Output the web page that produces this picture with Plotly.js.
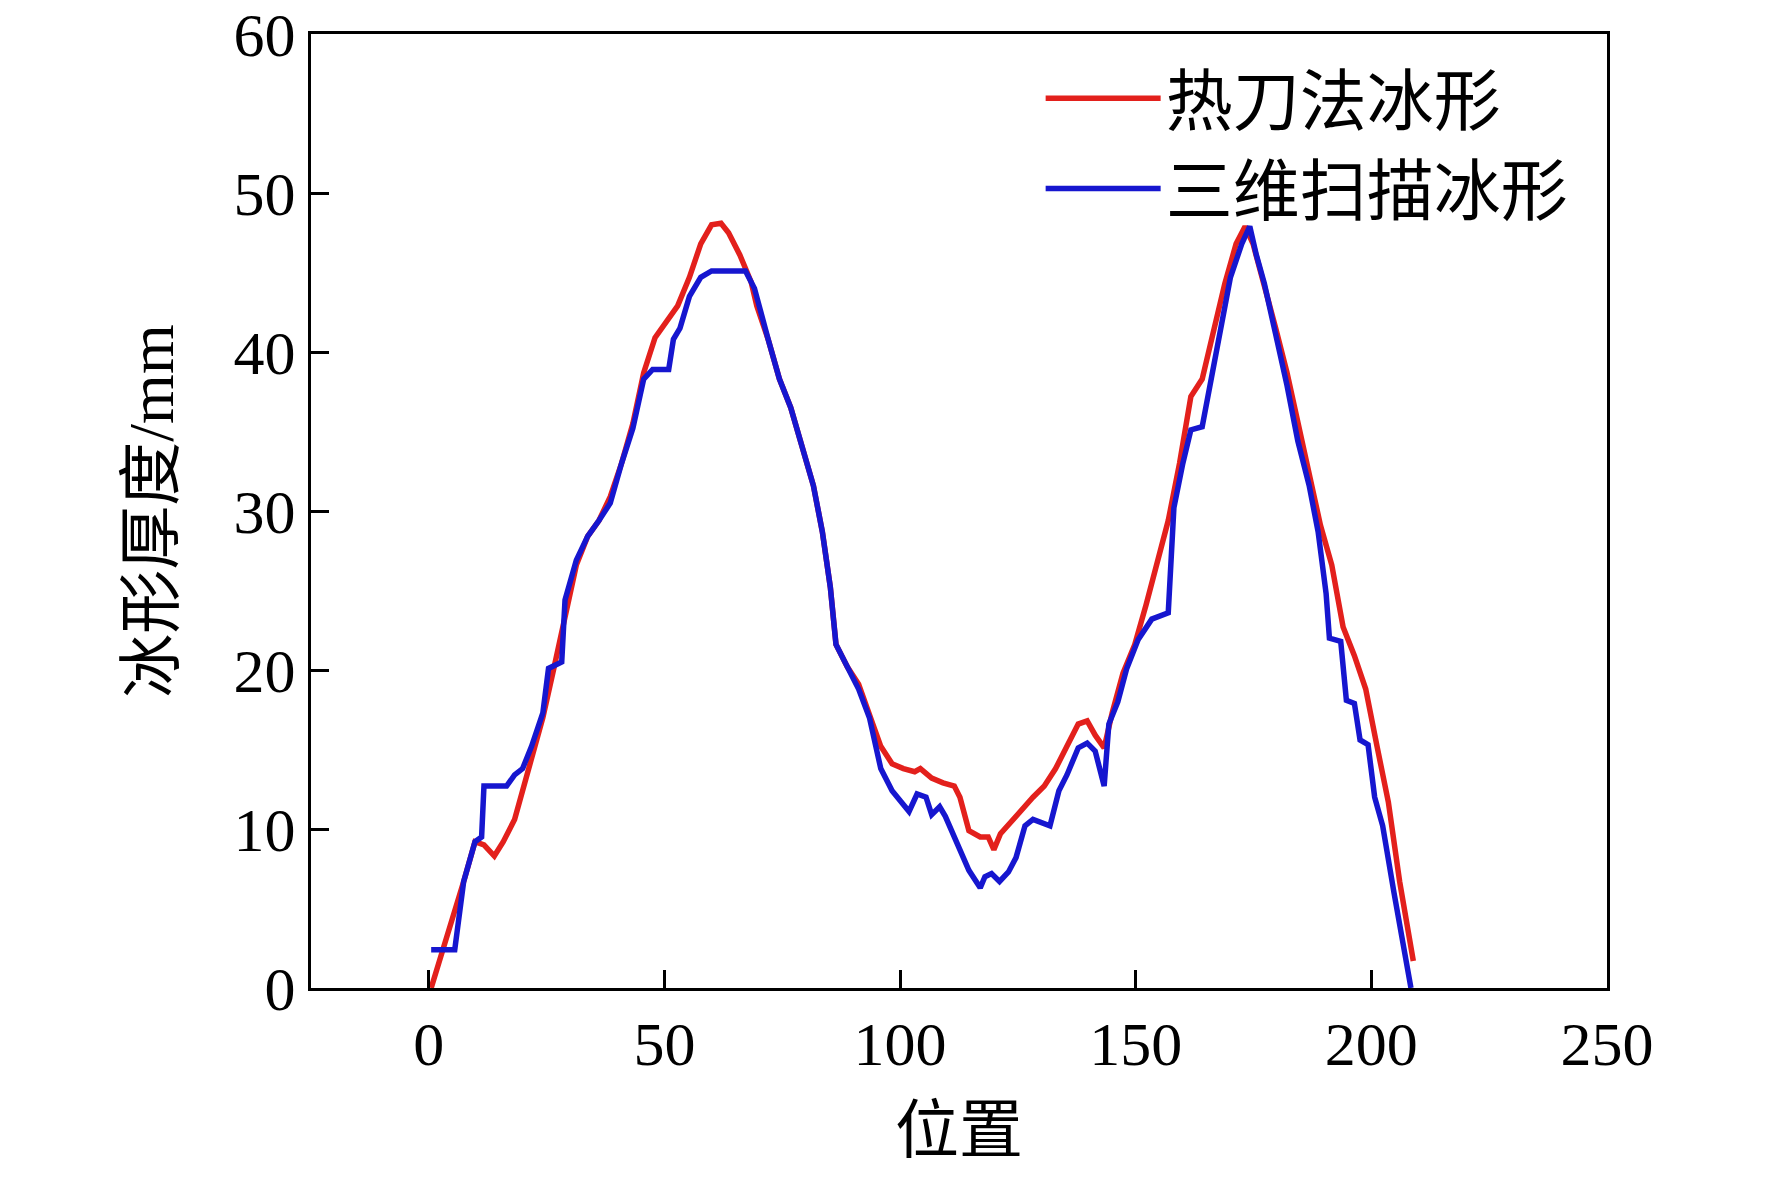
<!DOCTYPE html>
<html>
<head>
<meta charset="utf-8">
<script src="https://cdn.plot.ly/plotly-3.0.1.min.js"></script>
<style>
  html, body { margin: 0; padding: 0; background: #fff; }
  #chart { width: 1772px; height: 1181px; }
</style>
</head>
<body>
<div id="chart"></div>
<script>
// 热刀法冰形 (red)
const hotKnifePos = [0.5, 3.8, 7.4, 9.8, 11.7, 13.9, 15.8, 18.2, 19.9, 21.8, 24.2, 26.6, 28.9, 31.3, 33.7, 36.1, 38.5, 40.9, 43.3, 45.6, 48, 50.4, 52.8, 55.3, 57.7, 60, 62, 63.6, 66, 68.4, 69.6, 72, 74.4, 76.8, 79.2, 81.6, 83.5, 85.2, 86.4, 88.8, 91.2, 93.5, 95.9, 98.3, 100.7, 103.1, 104.3, 106.7, 109.1, 111.5, 112.7, 114.6, 117, 118.7, 119.9, 121.3, 123.4, 125.8, 128.2, 130.6, 133, 135.4, 137.8, 139.7, 141.4, 143.3, 145, 147.3, 149.8, 152.2, 154.5, 156.9, 159.3, 161.7, 164.1, 166.5, 168.9, 171.3, 173.2, 174.9, 177.3, 179.7, 182.1, 184.4, 186.8, 189.2, 191.6, 194, 196.4, 198.8, 201.2, 203.6, 206, 208.9];
const hotKnifeThick = [0, 3.1, 6.7, 9.2, 9.0, 8.3, 9.2, 10.6, 12.4, 14.5, 17, 20.2, 23.4, 26.6, 28.4, 29.4, 30.9, 33, 35.5, 38.7, 40.9, 41.9, 42.9, 44.7, 46.8, 48, 48.1, 47.5, 46.1, 44.4, 42.9, 40.8, 38.3, 36.5, 34, 31.6, 28.7, 25.2, 21.6, 20.2, 19.1, 17.3, 15.2, 14.1, 13.8, 13.6, 13.8, 13.2, 12.9, 12.7, 12, 9.9, 9.5, 9.5, 8.7, 9.7, 10.4, 11.3, 12, 12.7, 13.8, 15.2, 16.6, 16.8, 15.9, 15.1, 17.3, 19.8, 21.6, 24.1, 26.6, 29.4, 33, 37.2, 38.3, 41.2, 44.3, 46.8, 47.9, 46.8, 44.3, 41.5, 38.7, 35.5, 32.3, 29.1, 26.6, 22.7, 20.9, 18.8, 15.2, 11.7, 6.7, 1.7];

// 三维扫描冰形 (blue)
const scanPos = [0.5, 5.5, 7.4, 9.8, 11.2, 11.7, 16.5, 18.2, 19.9, 21.8, 24.2, 25.4, 28.2, 28.9, 31.3, 33.7, 36.1, 38.5, 40.9, 43.3, 45.6, 47.5, 50.9, 51.9, 53.3, 55.3, 57.7, 60, 67.2, 69.1, 72, 74.4, 76.8, 79.2, 81.6, 83.5, 85.2, 86.4, 88.8, 91.2, 93.5, 95.9, 98.3, 100.7, 101.9, 103.6, 105.5, 106.7, 108.4, 109.6, 111.5, 113.2, 114.6, 117, 118, 119.4, 121.1, 123, 124.6, 126.5, 128.2, 131.8, 133.7, 135.4, 137.8, 139.7, 141.4, 143.3, 144.3, 146.2, 148.1, 150.5, 153.4, 156.9, 158.1, 160, 161.7, 164.1, 165.8, 167.7, 170.1, 172.5, 174.2, 175.6, 177.3, 179.7, 182.1, 184.4, 186.8, 188.7, 190.4, 191.1, 193.5, 194.7, 196.4, 197.6, 199.3, 200.7, 202.4, 204.8, 207.2, 208.4];
const scanThick = [2.4, 2.4, 6.7, 9.2, 9.5, 12.7, 12.7, 13.4, 13.8, 15.2, 17.3, 20.1, 20.5, 24.4, 26.9, 28.4, 29.4, 30.5, 33, 35.2, 38.3, 38.9, 38.9, 40.8, 41.5, 43.5, 44.7, 45.1, 45.1, 44, 40.8, 38.3, 36.5, 34, 31.6, 28.7, 25.2, 21.6, 20.2, 18.8, 17, 13.8, 12.4, 11.5, 11.1, 12.2, 12, 10.9, 11.4, 10.8, 9.5, 8.5, 7.4, 6.3, 7, 7.2, 6.7, 7.3, 8.2, 10.2, 10.6, 10.2, 12.4, 13.4, 15.1, 15.4, 14.9, 12.7, 16.6, 18, 20.1, 21.9, 23.2, 23.6, 30.2, 33, 35.1, 35.3, 37.9, 40.8, 44.7, 46.8, 47.9, 46.1, 44.3, 41.1, 37.9, 34.4, 31.6, 28.7, 24.8, 22, 21.8, 18.1, 17.9, 15.6, 15.3, 12, 10.2, 6, 1.7, 0];

const xTicks = [0, 50, 100, 150, 200, 250];
const yTicks = [0, 10, 20, 30, 40, 50, 60];

const fontFamily = '"Liberation Serif", "Times New Roman", "Noto Sans CJK SC", serif';

const traces = [
    {
        x: hotKnifePos,
        y: hotKnifeThick,
        name: '热刀法冰形',
        type: 'scatter',
        mode: 'lines',
        line: { color: '#e3201c', width: 5.5 }
    },
    {
        x: scanPos,
        y: scanThick,
        name: '三维扫描冰形',
        type: 'scatter',
        mode: 'lines',
        line: { color: '#1616cf', width: 5.5 }
    }
];

const axisCommon = {
    showline: true,
    linecolor: '#000',
    linewidth: 3,
    mirror: true,
    ticks: 'inside',
    ticklen: 18,
    tickwidth: 3,
    tickcolor: '#000',
    showgrid: false,
    zeroline: false,
    tickfont: { family: fontFamily, size: 62, color: '#000' }
};

const layout = {
    width: 1772,
    height: 1181,
    margin: { t: 34, b: 193, l: 311, r: 165 },
    paper_bgcolor: '#fff',
    plot_bgcolor: '#fff',
    font: { family: fontFamily, color: '#000' },
    xaxis: Object.assign({}, axisCommon, {
        range: [-25, 250],
        tickvals: xTicks,
        title: { text: '位置', font: { family: fontFamily, size: 64 }, standoff: 30 }
    }),
    yaxis: Object.assign({}, axisCommon, {
        range: [0, 60],
        tickvals: yTicks,
        title: { text: '冰形厚度/mm', font: { family: fontFamily, size: 64 }, standoff: 40 }
    }),
    legend: {
        x: 0.563,
        y: 0.985,
        xanchor: 'left',
        yanchor: 'top',
        bgcolor: 'rgba(0,0,0,0)',
        font: { family: fontFamily, size: 67, color: '#000' },
        itemwidth: 115,
        tracegroupgap: 0
    },
    showlegend: true
};

Plotly.newPlot('chart', traces, layout, { displayModeBar: false, staticPlot: true });
</script>
</body>
</html>
